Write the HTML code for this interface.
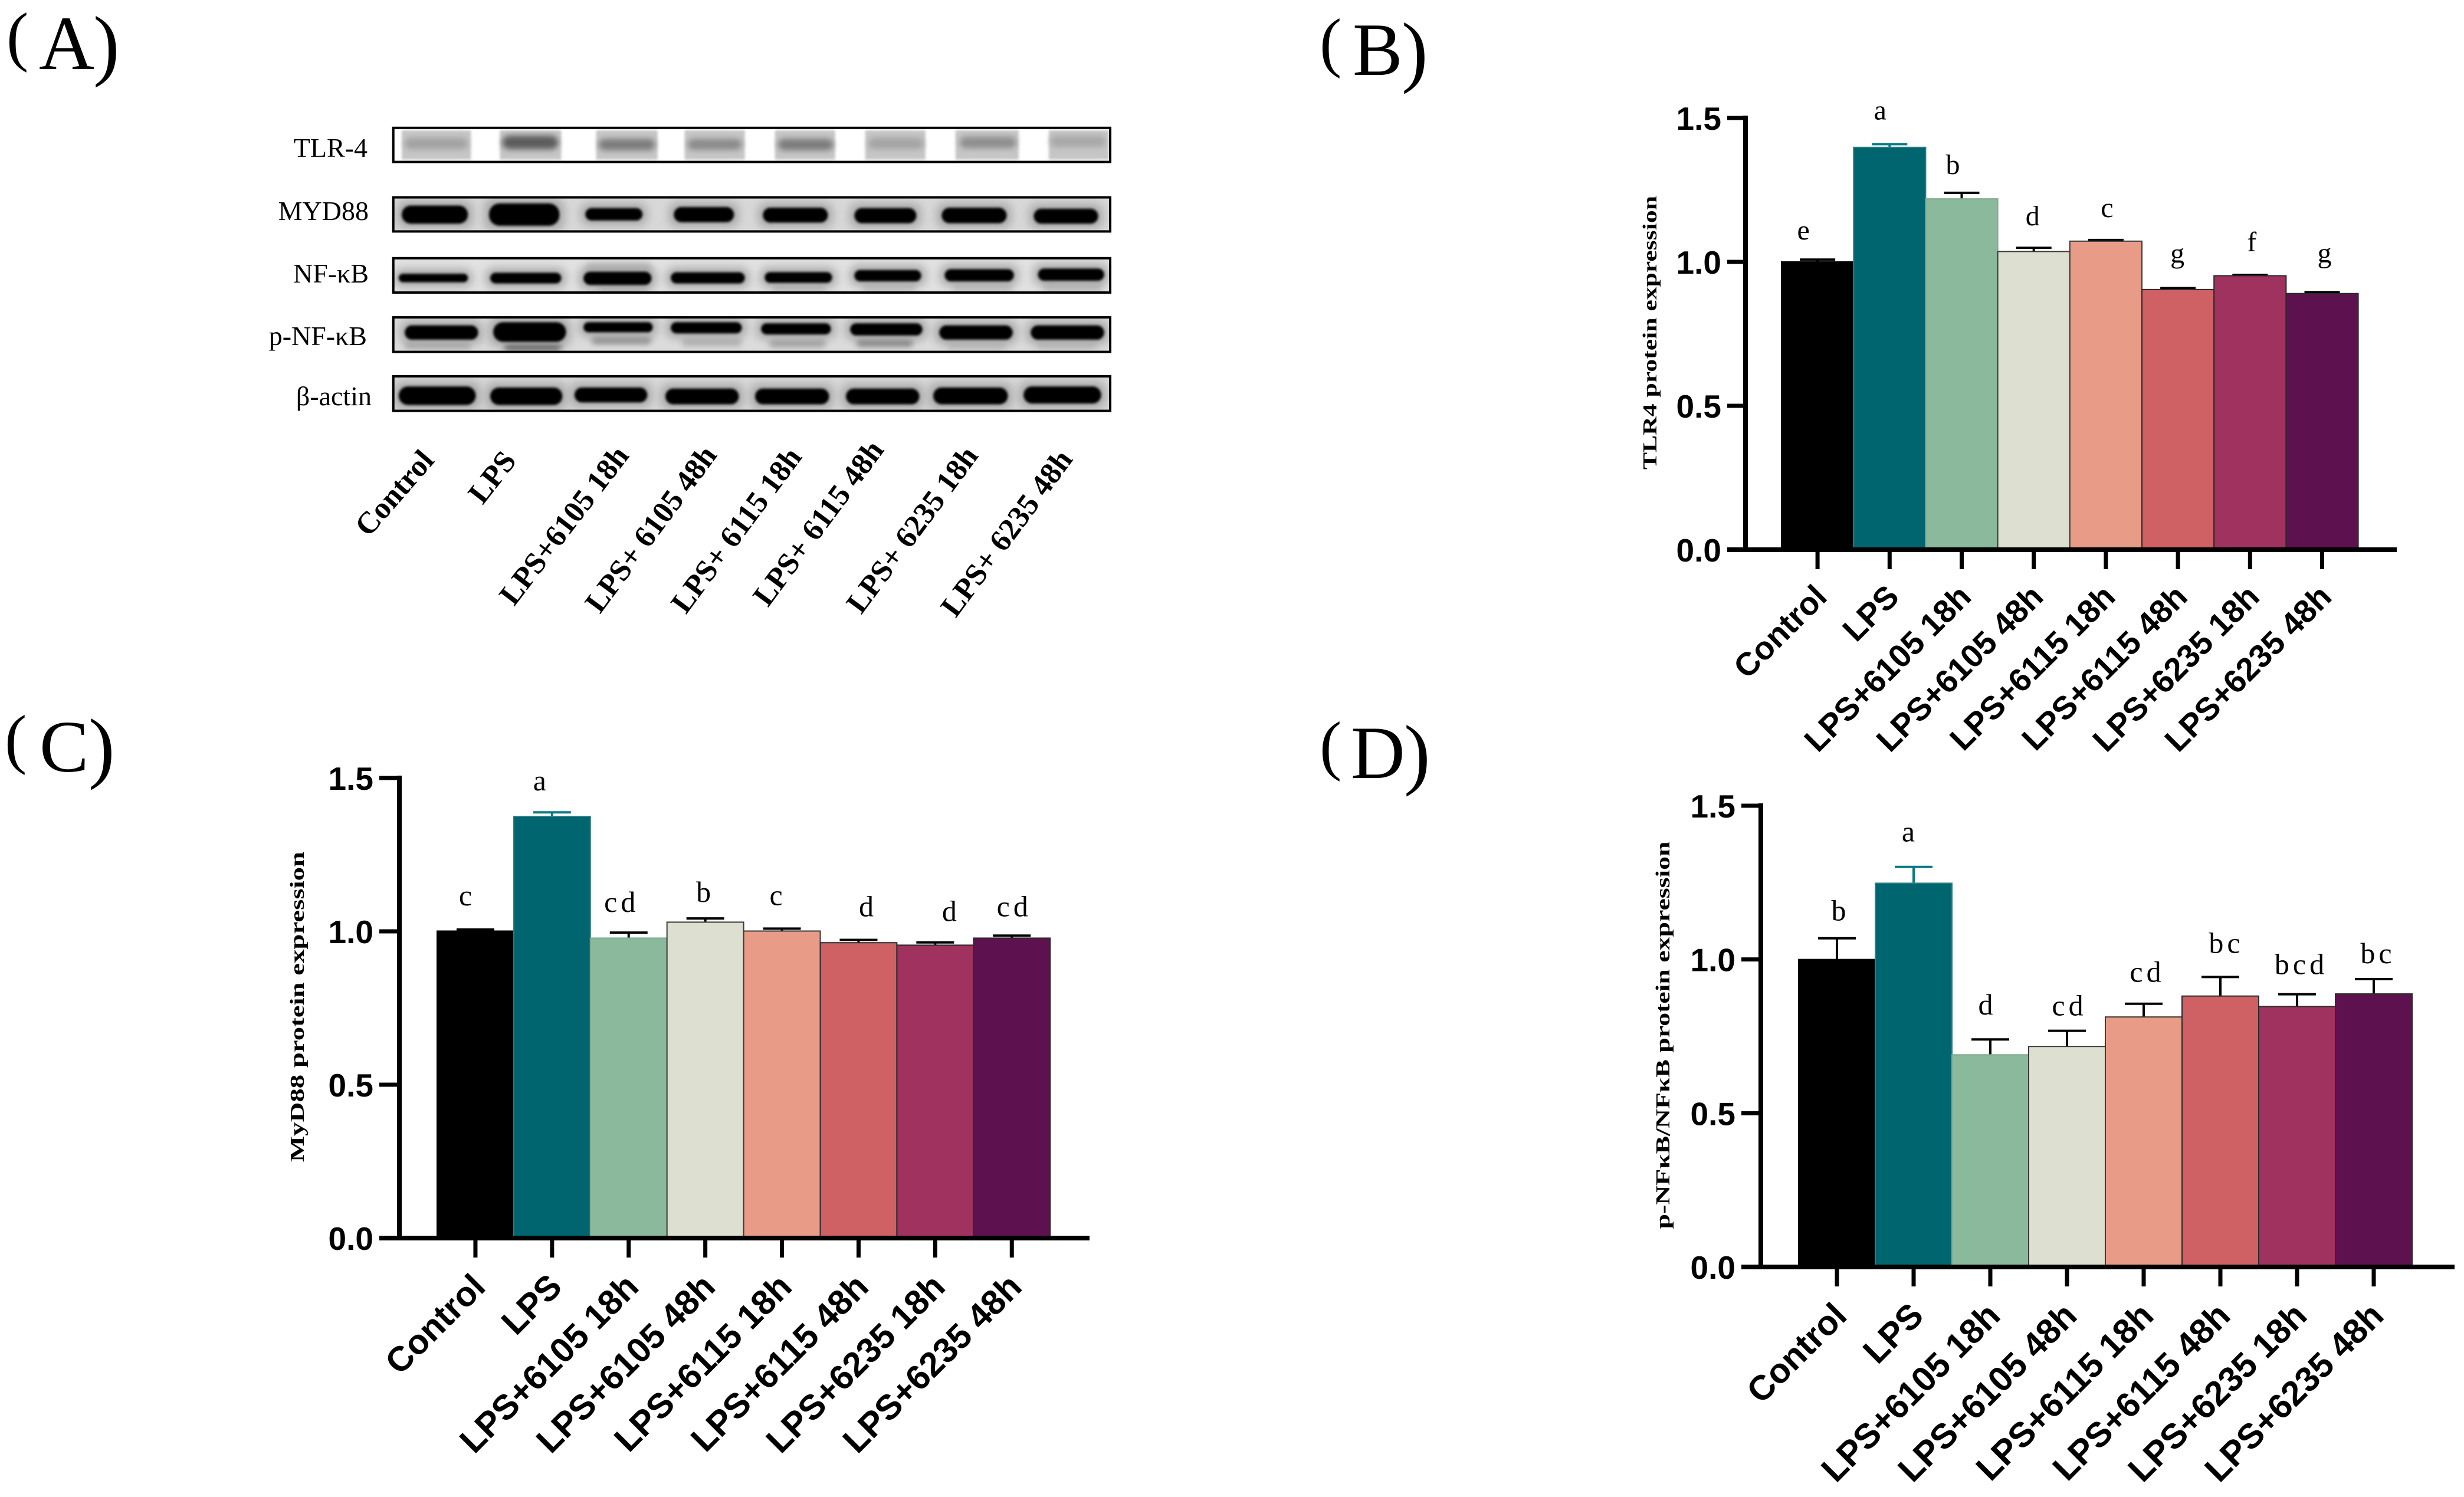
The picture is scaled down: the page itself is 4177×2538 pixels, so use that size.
<!DOCTYPE html>
<html lang="en">
<head>
<meta charset="utf-8">
<title>TLR4 / MyD88 / NF-κB western blot and protein expression</title>
<style>
html,body{margin:0;padding:0;background:#fff;width:4177px;height:2538px;overflow:hidden}
svg{display:block}
.serif{font-family:"Liberation Serif",serif}
.sans{font-family:"Liberation Sans",sans-serif}
</style>
</head>
<body>
<svg id="figure" xmlns="http://www.w3.org/2000/svg" width="4177" height="2538" viewBox="0 0 4177 2538">
  <defs>
    <filter id="soft" x="-30%" y="-100%" width="160%" height="300%"><feGaussianBlur stdDeviation="2"/></filter>
    <filter id="mid" x="-30%" y="-100%" width="160%" height="300%"><feGaussianBlur stdDeviation="5"/></filter>
    <filter id="halo" x="-50%" y="-150%" width="200%" height="400%"><feGaussianBlur stdDeviation="8"/></filter>
  </defs>
  <rect width="4177" height="2538" fill="#ffffff"/>

  <g class="serif" fill="#000"><text><tspan x="11" y="99" font-size="112">(</tspan><tspan x="66" y="117" font-size="130">A</tspan><tspan x="158" y="120" font-size="134">)</tspan></text></g>
  <g class="serif" fill="#000"><text><tspan x="2237" y="109" font-size="112">(</tspan><tspan x="2293" y="127" font-size="127">B</tspan><tspan x="2376" y="131" font-size="134">)</tspan></text></g>
  <g class="serif" fill="#000"><text><tspan x="8" y="1290" font-size="112">(</tspan><tspan x="67" y="1308" font-size="125">C</tspan><tspan x="150" y="1311" font-size="134">)</tspan></text></g>
  <g class="serif" fill="#000"><text><tspan x="2237" y="1301" font-size="112">(</tspan><tspan x="2290" y="1319" font-size="127">D</tspan><tspan x="2380" y="1322" font-size="134">)</tspan></text></g>

  <g id="blot"></g>
  <g id="chart-b"></g>
  <g id="chart-c"></g>
  <g id="chart-d"></g>
</svg>

<script>
// ---------- chart data ----------
const categories = ['Control','LPS','LPS+6105 18h','LPS+6105 48h','LPS+6115 18h','LPS+6115 48h','LPS+6235 18h','LPS+6235 48h'];
const yTickValues = [0, 0.5, 1.0, 1.5];
const yTickLabels = ['0.0', '0.5', '1.0', '1.5'];

const tlr4Values = [1.000, 1.398, 1.219, 1.036, 1.072, 0.904, 0.952, 0.890];
const tlr4Errors = [0.008, 0.011, 0.021, 0.013, 0.004, 0.005, 0.003, 0.005];
const tlr4Letters = ['e','a','b','d','c','g','f','g'];

const myd88Values = [1.001, 1.375, 0.978, 1.030, 1.001, 0.963, 0.955, 0.978];
const myd88Errors = [0.005, 0.013, 0.018, 0.012, 0.008, 0.009, 0.009, 0.008];
const myd88Letters = ['c','a','cd','b','c','d','d','cd'];

const nfkbValues = [1.000, 1.248, 0.690, 0.717, 0.813, 0.881, 0.847, 0.888];
const nfkbErrors = [0.069, 0.053, 0.050, 0.051, 0.043, 0.062, 0.040, 0.048];
const nfkbLetters = ['b','a','d','cd','cd','bc','bcd','bc'];

const barFills = ['#000000','#00656f','#8ab99b','#dde0d1','#e89c87','#cf6064','#a0325f','#5d124f'];
const barStrokes = ['#000000','#2f7f86','#7fa98f','#3a3a3a','#3a3a3a','#2a2a2a','#2a2a2a','#2a2a2a'];
const errorColors = ['#000000','#0b7a84','#000000','#000000','#000000','#000000','#000000','#000000'];

// ---------- panel layouts (style and placement only, no data) ----------
const layoutB = {left:2959, tickLeft:2928, right:4063, top:200, zero:932, barStart:3020, barWidth:122.2, capHalf:30,
  labelSize:55, labelDx:19, labelDy:83, letterSize:48,
  letterDx:[-24,-16,-15,-2,2,-1,3,4], letterGap:[34,42,32,38,39,43,40,50],
  title:'TLR4 protein expression', titleX:2808, titleY:564, titleLen:464};
const layoutC = {left:677, tickLeft:643, right:1847, top:1319, zero:2099, barStart:741, barWidth:129.9, capHalf:32,
  labelSize:59, labelDx:20, labelDy:86, letterSize:50,
  letterDx:[-17,-21,-12,-3,-10,13,24,4], letterGap:[41,37,35,28,40,40,36,33],
  title:'MyD88 protein expression', titleX:515, titleY:1707, titleLen:526};
const layoutD = {left:2985, tickLeft:2952, right:4161, top:1366, zero:2148, barStart:3049, barWidth:130, capHalf:32,
  labelSize:59, labelDx:20, labelDy:86, letterSize:50,
  letterDx:[3,-9,-8,4,6,10,7,7], letterGap:[30,43,42,26,37,41,34,27],
  title:'p-NFκB/NFκB protein expression', titleX:2830, titleY:1755, titleLen:657};

const NS = 'http://www.w3.org/2000/svg';
function make(tag, parent) {
  const el = document.createElementNS(NS, tag);
  parent.appendChild(el);
  return el;
}
function yScale(layout, v) {
  return layout.zero - (v / 1.5) * (layout.zero - layout.top);
}
function xBandLeft(layout, i) {
  return layout.barStart + i * layout.barWidth;
}
function xBandCentre(layout, i) {
  return xBandLeft(layout, i) + layout.barWidth / 2;
}
function setLine(el, x1, y1, x2, y2, color, width) {
  el.setAttribute('x1', x1);
  el.setAttribute('y1', y1);
  el.setAttribute('x2', x2);
  el.setAttribute('y2', y2);
  el.setAttribute('stroke', color);
  el.setAttribute('stroke-width', width);
}

function drawBarChart(rootId, layout, values, errors, letters) {
  const root = document.getElementById(rootId);

  values.forEach(function (v, i) {
    const topY = yScale(layout, v);
    const errY = yScale(layout, v + errors[i]);
    const cx = xBandCentre(layout, i);

    const stem = make('line', root);
    
    
    setLine(stem, cx, topY, cx, errY, errorColors[i], 4);

    const cap = make('line', root);
    
    
    setLine(cap, cx - layout.capHalf, errY, cx + layout.capHalf, errY, errorColors[i], 4);

    const bar = make('rect', root);
    
    
    bar.setAttribute('x', xBandLeft(layout, i));
    bar.setAttribute('y', topY);
    bar.setAttribute('width', layout.barWidth);
    bar.setAttribute('height', layout.zero - topY);
    bar.setAttribute('fill', barFills[i]);
    bar.setAttribute('stroke', barStrokes[i]);
    bar.setAttribute('stroke-width', 2);

    const letter = make('text', root);
    
    
    letter.setAttribute('class', 'serif');
    letter.setAttribute('x', cx + layout.letterDx[i]);
    letter.setAttribute('y', errY - layout.letterGap[i]);
    letter.setAttribute('font-size', layout.letterSize);
    letter.setAttribute('letter-spacing', letters[i].length > 1 ? 6 : 0);
    letter.setAttribute('text-anchor', 'middle');
    letter.textContent = letters[i];

    const tick = make('line', root);
    
    
    setLine(tick, cx, layout.zero, cx, layout.zero + 33, '#000', 7);

    const endX = cx + layout.labelDx;
    const endY = layout.zero + layout.labelDy;
    const label = make('text', root);
    
    
    label.setAttribute('class', 'sans');
    label.setAttribute('font-size', layout.labelSize);
    label.setAttribute('font-weight', 'bold');
    label.setAttribute('text-anchor', 'end');
    label.setAttribute('transform', 'translate(' + endX + ',' + endY + ') rotate(-45)');
    label.textContent = categories[i];
  });

  const yAxis = make('line', root);
  
  
  setLine(yAxis, layout.left, layout.top - 4, layout.left, layout.zero, '#000', 8);

  const xAxis = make('line', root);
  
  
  setLine(xAxis, layout.tickLeft, layout.zero, layout.right, layout.zero, '#000', 8);

  yTickValues.forEach(function (v, i) {
    const y = yScale(layout, v);

    const tick = make('line', root);
    
    
    setLine(tick, layout.tickLeft, y, layout.left, y, '#000', 7);

    const label = make('text', root);
    
    
    label.setAttribute('class', 'sans');
    label.setAttribute('x', layout.tickLeft - 10);
    label.setAttribute('y', y + 20);
    label.setAttribute('font-size', 55);
    label.setAttribute('font-weight', 'bold');
    label.setAttribute('text-anchor', 'end');
    label.textContent = yTickLabels[i];
  });

  const title = make('text', root);
  
  
  title.setAttribute('class', 'serif');
  title.setAttribute('font-size', 34);
  title.setAttribute('font-weight', 'bold');
  title.setAttribute('text-anchor', 'middle');
  title.setAttribute('textLength', layout.titleLen);
  title.setAttribute('lengthAdjust', 'spacingAndGlyphs');
  title.setAttribute('transform', 'translate(' + layout.titleX + ',' + layout.titleY + ') rotate(-90)');
  title.textContent = layout.title;
}

drawBarChart('chart-b', layoutB, tlr4Values, tlr4Errors, tlr4Letters);
drawBarChart('chart-c', layoutC, myd88Values, myd88Errors, myd88Letters);
drawBarChart('chart-d', layoutD, nfkbValues, nfkbErrors, nfkbLetters);

// ---------- western blot illustration ----------
const blotX = function (z) { return 380 + 1.0204 * z; };
const blotY = function (z) { return 180 + 0.357 * z; };
const blotLeft = 281;
const blotRight = 1472;

const tlr4Smears = [[295,410],[458,560],[618,720],[765,865],[915,1015],[1065,1165],[1215,1320],[1370,1470]];

const blotRows = [
  {label:'TLR-4', slug:'tlr-4', top:103, bottom:265, textX:623, baseline:266, bg:'#ffffff',
   bands:[[300,405,150,205,'#a2a2a2'],[462,555,140,205,'#5c5c5c'],[622,716,155,210,'#7c7c7c'],[770,860,155,208,'#8a8a8a'],[920,1012,155,210,'#7c7c7c'],[1070,1162,150,205,'#a4a4a4'],[1222,1316,145,200,'#8e8e8e'],[1372,1465,140,195,'#a8a8a8']]},
  {label:'MYD88', slug:'myd88', top:433, bottom:595, textX:625, baseline:373, bg:'#d8d8d8',
   bands:[[295,405,472,558,'#000'],[440,557,462,568,'#000'],[600,695,484,543,'#000'],[747,847,479,551,'#000'],[895,1003,482,553,'#000'],[1047,1150,484,556,'#000'],[1192,1300,482,556,'#000'],[1345,1452,487,558,'#000']]},
  {label:'NF-κB', slug:'nf-kb', top:722, bottom:885, textX:625, baseline:479, bg:'#e2e2e2',
   bands:[[600,710,745,800,'#b8b8b8'],[620,705,840,880,'#b4b4b4'],[910,1000,840,880,'#bcbcbc'],[1060,1150,835,880,'#c0c0c0'],[1210,1310,835,880,'#c0c0c0'],[1360,1460,830,880,'#bcbcbc'],
          [290,405,796,836,'#000'],[442,560,791,842,'#000'],[597,710,786,849,'#000'],[742,865,789,842,'#000'],[898,1010,788,839,'#000'],[1047,1158,778,832,'#000'],[1197,1312,774,832,'#000'],[1352,1462,771,829,'#000']]},
  {label:'p-NF-κB', slug:'p-nf-kb', top:1003, bottom:1167, textX:622, baseline:585, bg:'#dcdcdc',
   bands:[[300,410,1120,1150,'#a0a0a0'],[465,560,1125,1155,'#222222'],[610,710,1090,1130,'#8c8c8c'],[760,860,1100,1140,'#b0b0b0'],[905,1000,1105,1145,'#a0a0a0'],[1050,1145,1103,1141,'#7c7c7c'],[1200,1300,1115,1155,'#bcbcbc'],[1350,1450,1115,1155,'#bcbcbc'],
          [300,422,1041,1109,'#000'],[447,568,1026,1119,'#000'],[597,712,1026,1074,'#000'],[742,860,1026,1079,'#000'],[892,1008,1031,1084,'#000'],[1040,1160,1031,1089,'#000'],[1188,1310,1041,1109,'#000'],[1340,1462,1041,1109,'#000']]},
  {label:'β-actin', slug:'beta-actin', top:1283, bottom:1447, textX:630, baseline:687, bg:'#d8d8d8',
   bands:[[290,418,1331,1419,'#000'],[442,562,1336,1419,'#000'],[582,703,1336,1407,'#000'],[733,855,1341,1416,'#000'],[882,1005,1341,1416,'#000'],[1033,1155,1341,1416,'#000'],[1178,1302,1336,1416,'#000'],[1328,1457,1331,1412,'#000']]}
];

const blotGroup = document.getElementById('blot');
const blotDefs = document.querySelector('#figure defs');

blotRows.forEach(function (row, r) {
  const x = blotX(blotLeft);
  const w = blotX(blotRight) - x;
  const y = blotY(row.top);
  const h = blotY(row.bottom) - y;

  const clip = make('clipPath', blotDefs);
  clip.setAttribute('id', 'blot-clip-' + r);
  const clipRect = make('rect', clip);
  clipRect.setAttribute('x', x);
  clipRect.setAttribute('y', y);
  clipRect.setAttribute('width', w);
  clipRect.setAttribute('height', h);

  const inner = make('g', blotGroup);
  
  
  inner.setAttribute('clip-path', 'url(#blot-clip-' + r + ')');

  const bg = make('rect', inner);
  
  
  bg.setAttribute('x', x);
  bg.setAttribute('y', y);
  bg.setAttribute('width', w);
  bg.setAttribute('height', h);
  bg.setAttribute('fill', row.bg);

  if (r === 0) {
    tlr4Smears.forEach(function (s) {
      const smear = make('rect', inner);
      
      
      smear.setAttribute('x', blotX(s[0]));
      smear.setAttribute('y', y + 4);
      smear.setAttribute('width', blotX(s[1]) - blotX(s[0]));
      smear.setAttribute('height', h - 8);
      smear.setAttribute('fill', '#c6c6c6');
      smear.setAttribute('filter', 'url(#soft)');
    });
  }

  row.bands.forEach(function (b) {
    const bx = blotX(b[0]);
    const bw = blotX(b[1]) - bx;
    const by = blotY(b[2]);
    const bh = blotY(b[3]) - by;

    if (b[4] === '#000') {
      const halo = make('rect', inner);
      
      
      halo.setAttribute('x', bx - 8);
      halo.setAttribute('y', by - 8);
      halo.setAttribute('width', bw + 16);
      halo.setAttribute('height', bh + 16);
      halo.setAttribute('rx', 14);
      halo.setAttribute('fill', '#a8a8a8');
      halo.setAttribute('filter', 'url(#halo)');
    }

    const band = make('rect', inner);
    
    
    band.setAttribute('x', bx);
    band.setAttribute('y', by);
    band.setAttribute('width', bw);
    band.setAttribute('height', bh);
    band.setAttribute('rx', Math.min(bh / 2, 18));
    band.setAttribute('fill', b[4]);
    band.setAttribute('filter', b[4] === '#000' ? 'url(#soft)' : 'url(#mid)');
  });

  const frame = make('rect', blotGroup);
  
  
  frame.setAttribute('x', x);
  frame.setAttribute('y', y);
  frame.setAttribute('width', w);
  frame.setAttribute('height', h);
  frame.setAttribute('fill', 'none');
  frame.setAttribute('stroke', '#000');
  frame.setAttribute('stroke-width', 4);

  const label = make('text', blotGroup);
  
  
  label.setAttribute('class', 'serif');
  label.setAttribute('x', row.textX);
  label.setAttribute('y', row.baseline);
  label.setAttribute('font-size', 46);
  label.setAttribute('text-anchor', 'end');
  label.textContent = row.label;
});

const blotLaneLabels = [
  {text:'Control', x:738, y:782, angle:-49},
  {text:'LPS', x:877, y:782, angle:-52},
  {text:'LPS+6105 18h', x:1068, y:773, angle:-52.5},
  {text:'LPS+ 6105 48h', x:1217, y:772, angle:-53.5},
  {text:'LPS+ 6115 18h', x:1361, y:775, angle:-53.5},
  {text:'LPS+ 6115 48h', x:1500, y:763, angle:-53.5},
  {text:'LPS+ 6235 18h', x:1660, y:773, angle:-53.5},
  {text:'LPS+ 6235 48h', x:1820, y:779, angle:-53.5}
];
blotLaneLabels.forEach(function (item) {
  const label = make('text', blotGroup);
  
  
  label.setAttribute('class', 'serif');
  label.setAttribute('font-size', 52);
  label.setAttribute('font-weight', 'bold');
  label.setAttribute('text-anchor', 'end');
  label.setAttribute('transform', 'translate(' + item.x + ',' + item.y + ') rotate(' + item.angle + ')');
  label.textContent = item.text;
});
</script>
</body>
</html>
